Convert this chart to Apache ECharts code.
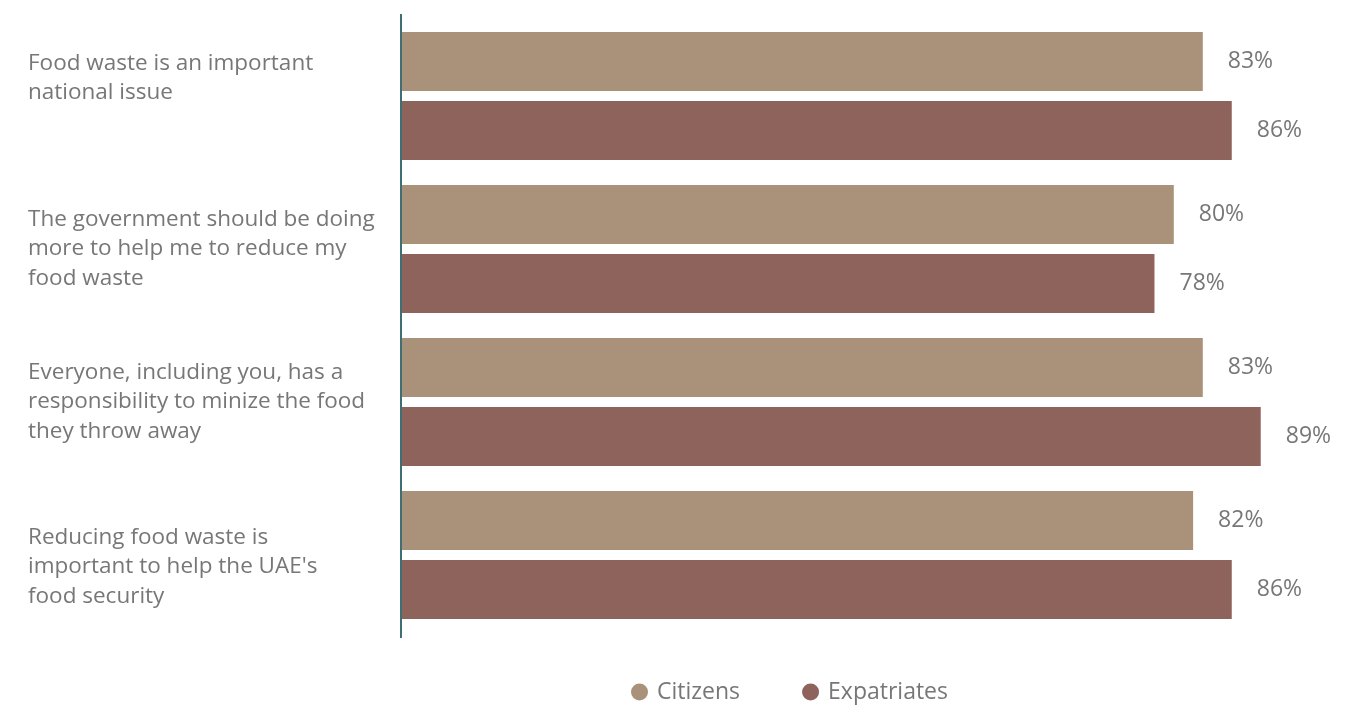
<!DOCTYPE html>
<html>
<head>
<meta charset="utf-8">
<script src="https://cdn.jsdelivr.net/npm/echarts@6/dist/echarts.min.js"></script>
<style>
  html, body { margin: 0; padding: 0; background: #ffffff; }
  #chart { width: 1353px; height: 705px; }
</style>
</head>
<body>
<div id="chart"></div>
<script>
// Survey statements (top to bottom)
const statements = [
  'Food waste is an important\nnational issue',
  'The government should be doing\nmore to help me to reduce my\nfood waste',
  'Everyone, including you, has a\nresponsibility to minize the food\nthey throw away',
  'Reducing food waste is\nimportant to help the UAE\'s\nfood security'
];
// Share agreeing, in percent
const citizens = [83, 80, 83, 82];
const expatriates = [86, 78, 89, 86];
const seriesNames = ['Citizens', 'Expatriates'];

const COLORS = ['#A99279', '#8E635B'];
const FONT = '"Open Sans", sans-serif';
const TEXT = '#777777';

const chart = echarts.init(document.getElementById('chart'), null, { renderer: 'canvas' });

const gridLeft = 401, gridTop = 19.5, gridHeight = 612, gridWidth = 869.4;

// Spacer lines nudge the first statement upward and the last one downward.
const spacerAfter = [36, 0, 0, 0];
const spacerBefore = [0, 0, 0, 24];

function statementLabel(value, index) {
  const lines = value.split('\n').map(function (line) { return '{n|' + line + '}'; });
  if (spacerBefore[index]) lines.unshift('{s' + spacerBefore[index] + '| }');
  if (spacerAfter[index]) lines.push('{s' + spacerAfter[index] + '| }');
  return lines.join('\n');
}

const valueLabel = {
  show: true,
  position: 'right',
  distance: 25,
  formatter: '{c}%',
  color: TEXT,
  fontSize: 23,
  fontFamily: FONT
};

chart.setOption({
  animation: false,
  backgroundColor: '#ffffff',
  grid: { left: gridLeft, top: gridTop, width: gridWidth, height: gridHeight, containLabel: false },
  xAxis: {
    type: 'value', min: 0, max: 90,
    show: false
  },
  yAxis: {
    type: 'category',
    data: statements,
    inverse: true,
    axisLine: { show: false },
    axisTick: { show: false },
    axisLabel: {
      margin: 373,
      align: 'left',
      formatter: statementLabel,
      rich: {
        n: { color: TEXT, fontSize: 22.5, lineHeight: 29.5, fontFamily: FONT, align: 'left' },
        s36: { fontSize: 1, lineHeight: 36 },
        s24: { fontSize: 1, lineHeight: 24 }
      }
    }
  },
  legend: {
    left: 631, top: 678, padding: 0,
    itemWidth: 17, itemHeight: 17, itemGap: 62,
    icon: 'circle',
    textStyle: { color: TEXT, fontSize: 23, lineHeight: 28, fontFamily: FONT, padding: [0, 0, 0, 4] },
    data: seriesNames
  },
  graphic: [{
    type: 'line',
    shape: { x1: 401, y1: 14, x2: 401, y2: 638 },
    style: { stroke: '#3f6f72', lineWidth: 2 },
    z: 10
  }],
  series: [
    {
      name: seriesNames[0], type: 'bar', data: citizens,
      barWidth: 59, barGap: '17%',
      itemStyle: { color: COLORS[0] },
      label: valueLabel
    },
    {
      name: seriesNames[1], type: 'bar', data: expatriates,
      barWidth: 59, barGap: '17%',
      itemStyle: { color: COLORS[1] },
      label: valueLabel
    }
  ]
});
</script>
</body>
</html>
